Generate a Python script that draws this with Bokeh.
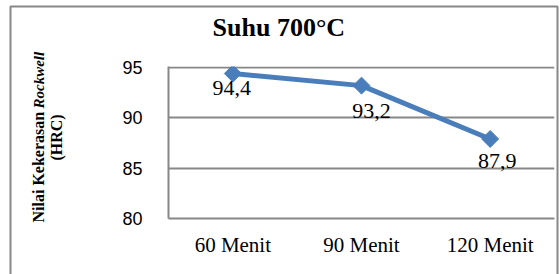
import numpy as np
from bokeh.plotting import figure
from bokeh.models import Range1d, FactorRange, ColumnDataSource, FixedTicker
from bokeh.core.properties import value
from bokeh.embed import file_html
from bokeh.resources import INLINE

# ---- data ----
categories = ["60 Menit", "90 Menit", "120 Menit"]
hardness = [94.4, 93.2, 87.9]
labels = ["94,4", "93,2", "87,9"]
y_ticks = [80, 85, 90, 95]
title_text = "Suhu 700°C"
ylab_main = "Nilai Kekerasan"
ylab_italic = "Rockwell"
ylab_unit = "(HRC)"

# ---- styling / placement ----
label_dx = [-1, 10, 7]
label_dy = [14, 25, 22]
GRAY = "#878787"
BLUE = "#4a7ebb"
W, H = 560, 274
LEFT, RIGHT, TOP, BOTTOM = 168, 6, 66, 56

p = figure(width=W, height=H, x_range=FactorRange(*categories, range_padding=0),
           y_range=Range1d(80, 95.1), output_backend="svg", toolbar_location=None,
           min_border_left=LEFT, min_border_right=RIGHT, min_border_top=TOP,
           min_border_bottom=BOTTOM)
p.outline_line_color = None
p.background_fill_color = "white"
p.border_fill_color = "white"

# axes
p.yaxis.ticker = FixedTicker(ticks=y_ticks)
p.yaxis.major_tick_line_color = None
p.yaxis.minor_tick_line_color = None
p.yaxis.axis_line_color = GRAY
p.yaxis.axis_line_width = 2
p.yaxis.major_label_text_font = "Liberation Sans"
p.yaxis.major_label_text_font_size = "18px"
p.yaxis.major_label_text_color = "black"
p.yaxis.major_label_standoff = 20

p.xaxis.major_tick_line_color = None
p.xaxis.axis_line_color = GRAY
p.xaxis.axis_line_width = 2
p.xaxis.major_label_text_font = "Liberation Serif"
p.xaxis.major_label_text_font_size = "21px"
p.xaxis.major_label_text_color = "black"
p.xaxis.major_label_standoff = 8

p.xgrid.grid_line_color = None
p.ygrid.ticker = FixedTicker(ticks=y_ticks)
p.ygrid.grid_line_color = GRAY
p.ygrid.grid_line_width = 2

src = ColumnDataSource(dict(x=categories, y=hardness, t=labels, dx=label_dx, dy=label_dy))
p.line("x", "y", source=src, line_color=BLUE, line_width=5)
p.scatter("x", "y", source=src, marker="square", angle=np.pi / 4, size=12,
          fill_color=BLUE, line_color=BLUE)
p.text("x", "y", text="t", source=src, x_offset="dx", y_offset="dy",
       text_font=value("Liberation Serif"), text_font_size="22px", text_color="black",
       text_align="center", text_baseline="alphabetic")

# texts outside the frame, anchored at the first category / top tick
ax, ay = categories[0], y_ticks[-1]
p.text([ax], [ay], text=[title_text], x_offset=46, y_offset=-40, level="overlay",
       text_font=value("Liberation Serif"), text_font_style="bold", text_font_size="26px",
       text_color="black", text_align="center", text_baseline="alphabetic")
p.text([ax], [ay], text=[ylab_main], x_offset=-194, y_offset=155, angle=np.pi / 2,
       level="overlay", text_font=value("Liberation Serif"), text_font_style="bold",
       text_font_size="16px", text_color="black", text_align="left", text_baseline="middle")
p.text([ax], [ay], text=[ylab_italic], x_offset=-194, y_offset=41, angle=np.pi / 2,
       level="overlay", text_font=value("Liberation Serif"), text_font_style="bold italic",
       text_font_size="15px", text_color="black", text_align="left", text_baseline="middle")
p.text([ax], [ay], text=[ylab_unit], x_offset=-176, y_offset=70, angle=np.pi / 2,
       level="overlay", text_font=value("Liberation Serif"), text_font_style="bold",
       text_font_size="16px", text_color="black", text_align="center", text_baseline="middle")

# outer chart border (decoration), centre derived from frame geometry
frame_w = W - LEFT - RIGHT
cat_w = frame_w / len(categories)
box_l, box_r, box_t, box_b = 10, 557, 6, 282
cx_px = (box_l + box_r) / 2 - (LEFT + cat_w / 2)
cy_px = (box_t + box_b) / 2
px_per_unit = (H - TOP - BOTTOM) / (95.1 - 80)
cy_data = 95.1 - (cy_px - TOP) / px_per_unit
p.rect(x=[(categories[0], cx_px / cat_w)], y=[cy_data], width=box_r - box_l,
       height=box_b - box_t, width_units="screen", height_units="screen",
       fill_color=None, line_color=GRAY, line_width=2, level="overlay")

open("out.html", "w").write(file_html(p, INLINE))
